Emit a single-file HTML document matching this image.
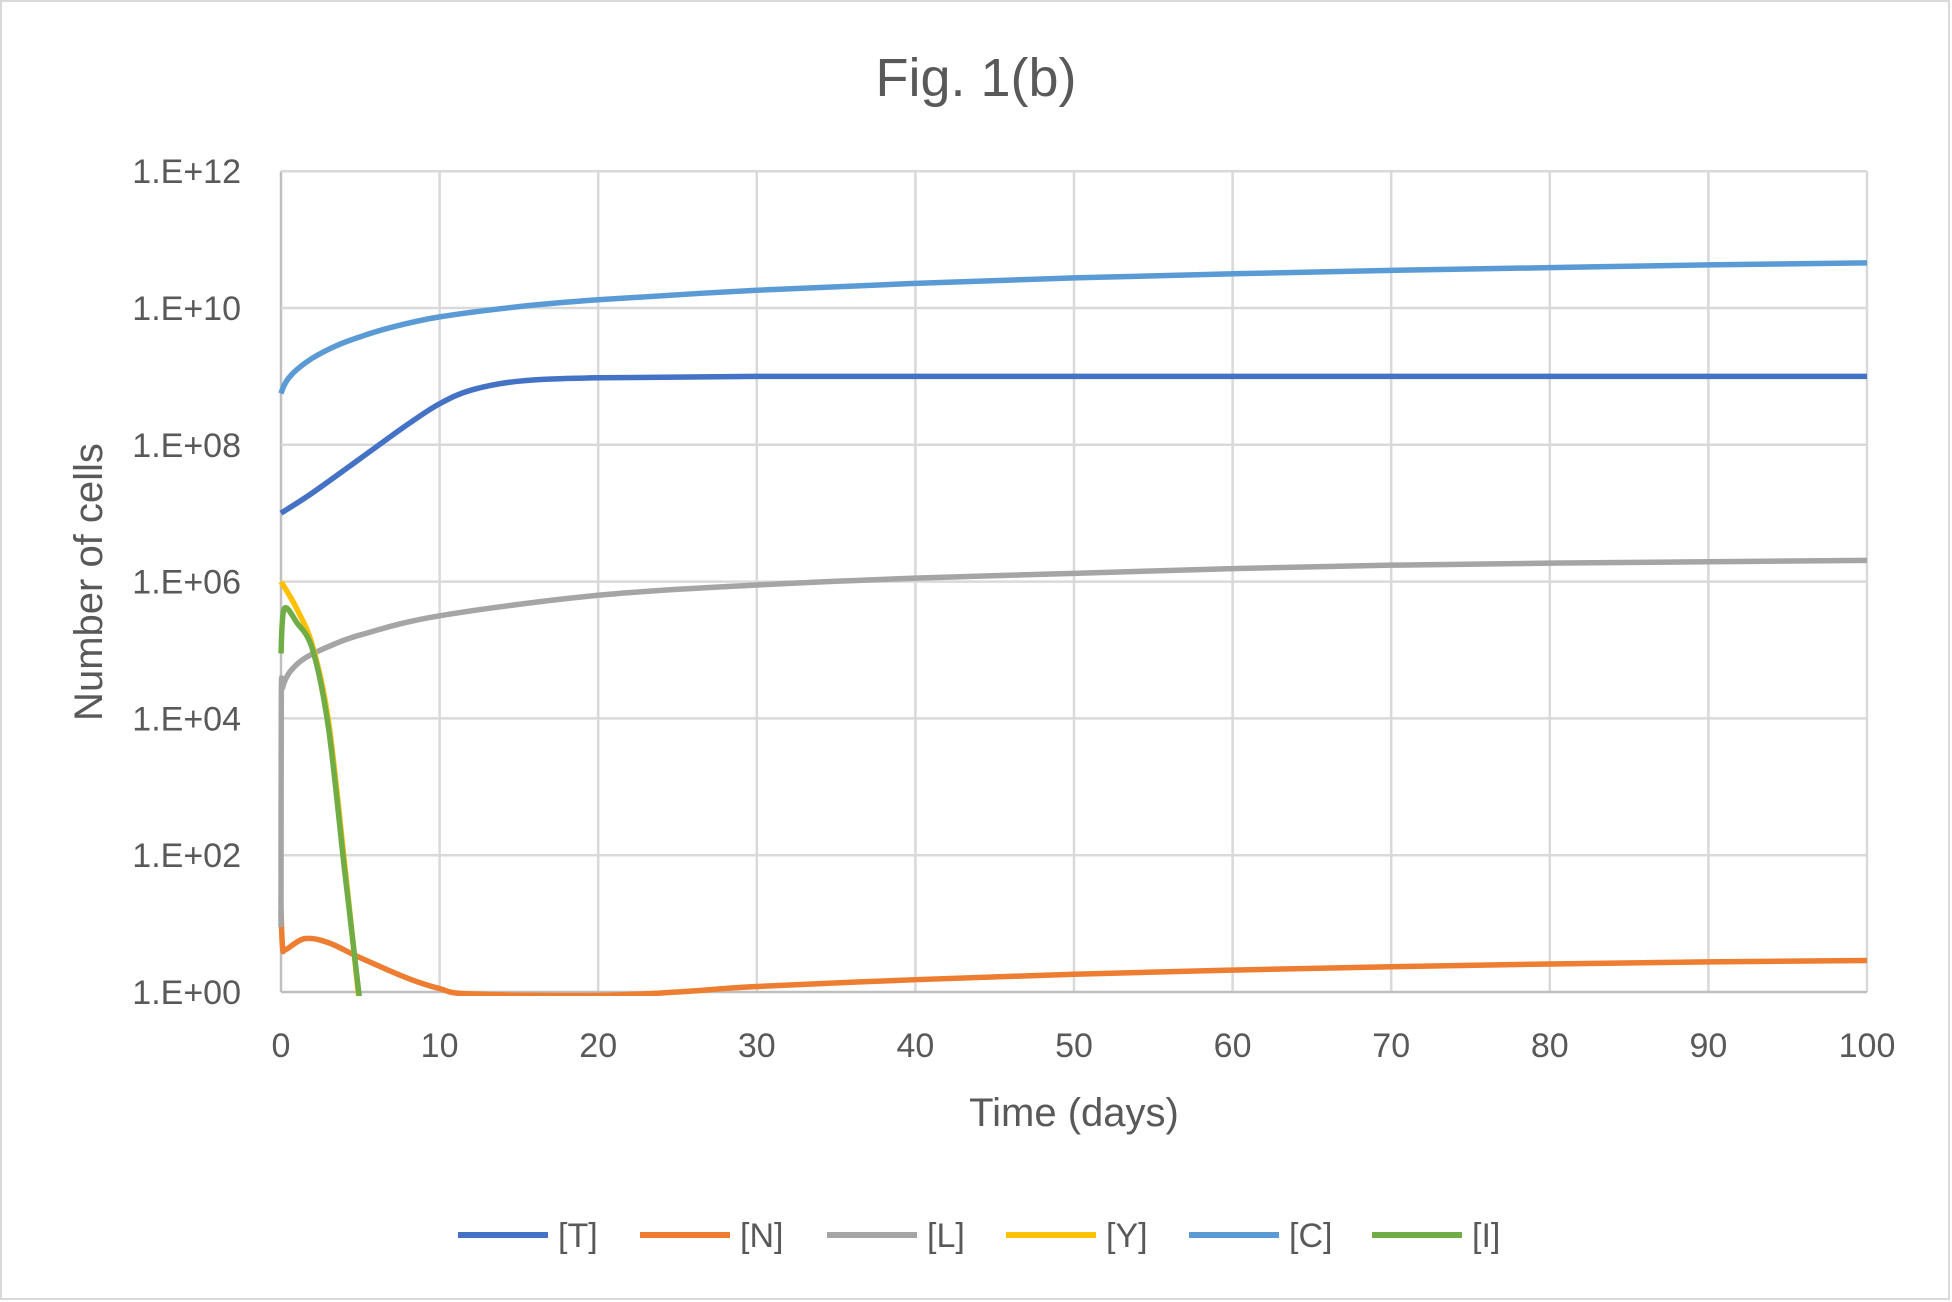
<!DOCTYPE html>
<html><head><meta charset="utf-8"><style>
body{margin:0;background:#fff}
svg{display:block;font-family:"Liberation Sans",sans-serif}
</style></head><body>
<svg id="chart" width="1952" height="1302" viewBox="0 0 1952 1302">
<rect x="1" y="1" width="1948" height="1298" fill="#fff" stroke="#d9d9d9" stroke-width="2"/>
<text x="976" y="96" text-anchor="middle" font-size="54" fill="#595959">Fig. 1(b)</text>
<g id="grid"></g><g id="series" clip-path="url(#clip)"></g><g id="ticks"></g>
<defs><clipPath id="clip"><rect x="270" y="165" width="1610" height="831"/></clipPath></defs>
<text transform="translate(102,582) rotate(-90)" text-anchor="middle" font-size="40" fill="#595959">Number of cells</text>
<text x="1074" y="1126" text-anchor="middle" font-size="40" fill="#595959">Time (days)</text>
<g id="legend"></g>
</svg>
<script>
const xTicks=[0,10,20,30,40,50,60,70,80,90,100];
const yTicks=[0,2,4,6,8,10,12];
const yTickLabels=["1.E+00","1.E+02","1.E+04","1.E+06","1.E+08","1.E+10","1.E+12"];
const seriesNames=["[T]","[N]","[L]","[Y]","[C]","[I]"];
const seriesColors=["#4472c4","#ed7d31","#a5a5a5","#ffc000","#5b9bd5","#70ad47"];
// values are log10(cells)
const tT=[0,2,5,8,10,12,15,20,30,50,70,100];
const vT=[7,7.3,7.8,8.3,8.6,8.8,8.93,8.98,9,9,9,9];
const tN=[0,0.1,0.3,1.5,3,5,8,10,12,20,25,30,40,50,60,70,80,90,100];
const vN=[1.2,0.65,0.62,0.78,0.72,0.5,0.2,0.05,-0.03,-0.05,0,0.08,0.18,0.26,0.32,0.37,0.41,0.44,0.46];
const tL=[0,0.02,0.1,0.3,0.7,1.5,3,5,10,20,30,40,50,60,70,80,90,100];
const vL=[0.95,4.3,4.45,4.58,4.72,4.88,5.05,5.22,5.5,5.8,5.95,6.05,6.12,6.19,6.24,6.27,6.29,6.31];
const tY=[0,1,2,3,4,5,5.5];
const vY=[6,5.6,5.05,3.95,1.9,-0.3,-1.5];
const tC=[0,0.2,0.5,1,2,3.5,5,7,10,15,20,30,40,50,60,70,80,90,100];
const vC=[8.75,8.87,8.98,9.1,9.27,9.45,9.58,9.72,9.87,10.02,10.12,10.26,10.36,10.44,10.5,10.55,10.59,10.63,10.66];
const tI=[0,0.2,1,2,3,4,5,5.5];
const vI=[4.95,5.6,5.4,5.0,3.85,1.8,-0.2,-1.5];
const allT=[tT,tN,tL,tY,tC,tI], allV=[vT,vN,vL,vY,vC,vI];
const X=t=>281+t*15.86, Y=v=>992-v*68.4;
const NS="http://www.w3.org/2000/svg";
function mk(tag,attrs,parent){const e=document.createElementNS(NS,tag);for(const k in attrs)e.setAttribute(k,attrs[k]);parent.appendChild(e);return e;}
const grid=document.getElementById('grid'),ticks=document.getElementById('ticks');
xTicks.forEach(t=>{const l=mk('line',{x1:X(t),x2:X(t),y1:Y(12),y2:Y(0),stroke:t===0?'#bfbfbf':'#d9d9d9','stroke-width':2.5},grid);


const tx=mk('text',{x:X(t),y:1057,'text-anchor':'middle','font-size':34,fill:'#595959'},ticks);tx.textContent=t;

});
yTicks.forEach((v,i)=>{const l=mk('line',{x1:X(0),x2:X(100),y1:Y(v),y2:Y(v),stroke:v===0?'#bfbfbf':'#d9d9d9','stroke-width':2.5},grid);


const tx=mk('text',{x:241,y:Y(v)+12,'text-anchor':'end','font-size':34,fill:'#595959'},ticks);tx.textContent=yTickLabels[i];

});
const sg=document.getElementById('series');
function smooth(ts,vs){const p=ts.map((t,i)=>[X(t),Y(vs[i])]);let d=`M${p[0][0]},${p[0][1]}`;
for(let i=0;i<p.length-1;i++){const p0=p[Math.max(0,i-1)],p1=p[i],p2=p[i+1],p3=p[Math.min(p.length-1,i+2)];
d+=` C${p1[0]+(p2[0]-p0[0])/6},${p1[1]+(p2[1]-p0[1])/6} ${p2[0]-(p3[0]-p1[0])/6},${p2[1]-(p3[1]-p1[1])/6} ${p2[0]},${p2[1]}`;}return d;}
const order=[1,2,3,5,0,4];
order.forEach(i=>{const p=mk('path',{d:smooth(allT[i],allV[i]),fill:'none',stroke:seriesColors[i],'stroke-width':5.5,'stroke-linejoin':'round'},sg);

});
const lg=document.getElementById('legend');
const lx=[458,640,827,1006,1189,1372];
seriesNames.forEach((n,i)=>{const g=mk('g',{},lg);


mk('line',{x1:lx[i],x2:lx[i]+90,y1:1235,y2:1235,stroke:seriesColors[i],'stroke-width':6},g);
const t=mk('text',{x:lx[i]+100,y:1247,'font-size':34,fill:'#595959'},g);t.textContent=n;});
</script>
</body></html>
